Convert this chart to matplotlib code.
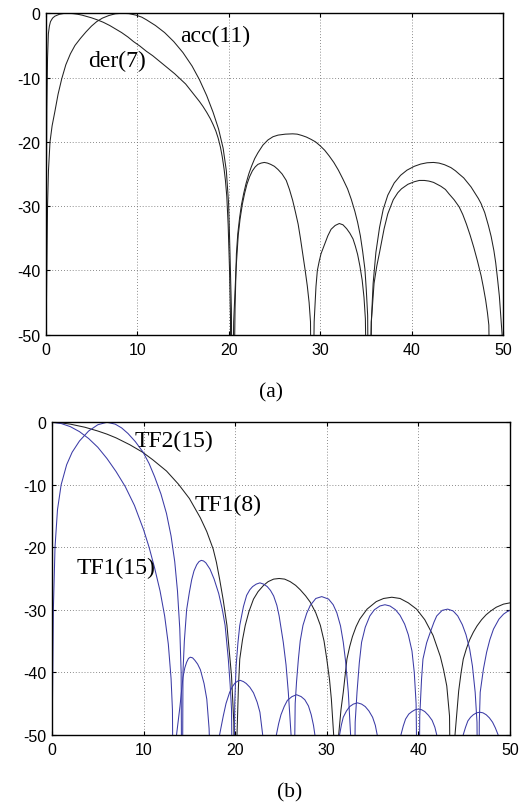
import numpy as np
import matplotlib
matplotlib.use('Agg')
import matplotlib.pyplot as plt
import matplotlib as mpl

mpl.rcParams['axes.unicode_minus'] = False
mpl.rcParams['font.family'] = 'Liberation Sans'
mpl.rcParams['xtick.labelsize'] = 11.5
mpl.rcParams['ytick.labelsize'] = 11.5

###########################################################
# data: (frequency, dB) pairs, values below -50 are off chart

# (a) der(7): main lobe + side lobes
der7 = [(0.0, -75), (0.04, -40), (0.08, -25), (0.12, -15), (0.2, -7), (0.29, -3.2),
        (0.4, -2.0), (0.52, -1.3), (0.75, -0.75), (1.0, -0.45), (1.5, -0.15), (2.0, -0.02),
        (2.5, 0), (3.0, -0.05), (3.5, -0.15), (4.0, -0.3), (4.5, -0.5), (5.0, -0.7),
        (5.6, -1.0), (6.3, -1.4), (7.0, -1.9), (7.6, -2.4), (8.3, -3.0), (9.0, -3.7),
        (9.6, -4.4), (10.3, -5.1), (11.0, -5.9), (11.7, -6.6), (12.3, -7.3), (13.0, -8.1),
        (13.5, -8.7), (14.1, -9.4), (14.7, -10.2), (15.3, -11.0), (15.8, -11.9),
        (16.3, -12.8), (16.8, -13.7), (17.2, -14.5), (17.6, -15.4), (18.0, -16.4),
        (18.3, -17.3), (18.6, -18.3), (18.85, -19.4), (19.1, -20.8), (19.3, -22.3),
        (19.5, -24.2), (19.65, -26.0), (19.8, -28.5), (19.95, -33), (20.1, -40),
        (20.2, -47), (20.3, -75),
        (20.55, -48), (20.8, -40), (21.05, -34.5), (21.25, -32), (21.5, -29.7),
        (21.75, -28.0), (22.0, -26.6), (22.3, -25.4), (22.6, -24.5), (22.9, -23.9),
        (23.2, -23.5), (23.55, -23.3), (23.9, -23.2), (24.25, -23.3), (24.6, -23.5),
        (25.0, -23.8), (25.4, -24.3), (25.85, -25.0), (26.3, -26.0), (26.65, -27.4),
        (27.0, -29.1), (27.3, -30.9), (27.6, -32.8), (27.85, -35), (28.1, -37.4),
        (28.35, -39.8), (28.6, -42.4), (28.8, -45), (28.95, -48), (29.1, -75),
        (29.35, -48), (29.55, -42.5), (29.7, -40), (29.9, -38.6), (30.1, -37.4),
        (30.5, -35.9), (30.85, -34.6), (31.2, -33.6), (31.65, -33.0), (32.1, -32.7),
        (32.5, -32.9), (32.9, -33.5), (33.25, -34.2), (33.6, -35.1), (33.85, -36.2),
        (34.1, -37.5), (34.35, -39.3), (34.6, -41.5), (34.8, -44.2), (34.95, -47.5),
        (35.25, -75),
        (35.6, -48), (35.9, -42), (36.2, -39.3), (36.5, -37.2), (37.0, -33.5),
        (37.4, -31.2), (38.0, -29.0), (38.5, -27.9), (38.9, -27.3), (39.6, -26.6),
        (40.3, -26.2), (40.85, -26.0), (41.4, -26.0), (41.9, -26.1), (42.4, -26.3),
        (43.2, -26.9), (43.7, -27.4), (44.1, -28.1), (44.65, -29.0), (45.2, -30.1),
        (45.6, -31.3), (46.0, -32.8), (46.4, -34.5), (46.8, -36.4), (47.2, -38.5),
        (47.6, -40.8), (47.85, -42.6), (48.1, -44.6), (48.3, -46.6), (48.45, -48.5),
        (48.7, -75)]

# (a) acc(11)
acc11 = [(0.0, -75), (0.08, -45), (0.2, -30), (0.3, -24.5), (0.47, -20), (0.7, -17.5),
         (1.0, -15.3), (1.35, -12.6), (1.75, -10.2), (2.2, -8.0), (2.7, -6.3), (3.2, -5.0),
         (3.8, -3.9), (4.4, -2.9), (5.0, -2.0), (5.57, -1.3), (6.2, -0.75), (6.9, -0.35),
         (7.6, -0.08), (8.3, 0), (9.1, -0.05), (9.9, -0.3), (10.5, -0.6), (11.0, -1.0),
         (12.0, -1.9), (13.0, -3.0), (14.0, -4.4), (15.0, -6.1), (16.0, -8.2),
         (16.8, -10.3), (17.6, -12.8), (18.3, -15.4), (18.9, -18.0), (19.4, -21),
         (19.75, -24.5), (20.0, -29.7), (20.15, -37.4), (20.3, -46), (20.45, -75),
         (20.7, -46), (20.85, -37.4), (21.0, -34.3), (21.2, -31.8), (21.4, -29.8),
         (21.65, -28.0), (21.9, -26.5), (22.2, -25.0), (22.5, -23.8), (22.85, -22.6),
         (23.2, -21.7), (23.75, -20.5), (24.3, -19.7), (24.85, -19.2), (25.4, -18.95),
         (26.2, -18.8), (27.0, -18.75), (27.5, -18.8), (28.0, -19.0), (28.5, -19.25),
         (29.0, -19.6), (29.5, -20.0), (30.0, -20.6), (30.5, -21.3), (31.0, -22.2),
         (31.5, -23.2), (32.0, -24.4), (32.5, -25.8), (33.0, -27.3), (33.4, -28.9),
         (33.8, -30.8), (34.1, -32.5), (34.4, -34.6), (34.65, -37.0), (34.9, -39.8),
         (35.05, -43), (35.2, -47), (35.35, -75),
         (35.6, -48), (35.8, -42), (36.1, -37.2), (36.5, -33.3), (36.9, -30.5),
         (37.4, -28.3), (38.1, -26.4), (38.8, -25.2), (39.5, -24.4), (40.3, -23.8),
         (41.0, -23.45), (41.7, -23.25), (42.4, -23.2), (43.0, -23.3), (43.6, -23.55),
         (44.3, -24.0), (44.8, -24.5), (45.2, -25.0), (45.7, -25.6), (46.1, -26.3),
         (46.5, -27.0), (46.9, -27.9), (47.3, -28.8), (47.6, -29.6), (48.0, -31.0),
         (48.4, -33.0), (48.7, -34.7), (49.0, -36.9), (49.2, -38.8), (49.4, -41.3),
         (49.6, -44), (49.75, -47), (49.9, -50), (50.0, -58)]

# (b) TF1(8), black
tf1_8 = [(0.0, 0), (1.0, -0.1), (2.0, -0.3), (3.6, -0.8), (5.0, -1.4), (6.0, -1.9),
         (7.0, -2.5), (8.5, -3.6), (9.9, -4.8), (11.0, -6.0), (12.5, -7.8), (13.8, -9.9),
         (15.0, -12.2), (16.2, -15.3), (16.9, -17.5), (17.6, -20.3), (17.95, -22.4),
         (18.3, -25.1), (18.7, -28.5), (19.1, -32.5), (19.6, -40.6), (19.85, -48),
         (20.05, -75),
         (20.2, -50), (20.35, -42.5), (20.5, -37.9), (20.8, -34.8), (21.1, -32.5),
         (21.5, -30.3), (22.0, -28.3), (22.5, -27.1), (23.1, -26.1), (23.6, -25.5),
         (24.2, -25.1), (24.8, -25.0), (25.4, -25.1), (26.0, -25.5), (26.6, -26.1),
         (27.1, -26.8), (27.7, -27.8), (28.2, -28.8), (28.8, -30.5), (29.3, -32.5),
         (29.7, -35.0), (30.0, -37.9), (30.3, -41.2), (30.5, -44.3), (30.75, -50),
         (30.95, -75),
         (31.3, -50), (31.55, -46), (31.8, -43.2), (32.2, -37.9), (32.5, -35.9),
         (32.8, -34.3), (33.2, -32.7), (33.6, -31.5), (34.4, -29.9), (35.4, -28.7),
         (36.2, -28.2), (37.1, -28.0), (38.0, -28.2), (38.9, -28.9), (39.8, -29.9),
         (40.7, -31.6), (41.6, -34.1), (42.4, -37.5), (42.75, -39.6), (43.1, -42.2),
         (43.4, -47), (43.6, -75),
         (44.0, -50), (44.4, -43), (44.65, -40.2), (44.9, -37.9), (45.25, -36.2),
         (45.6, -34.8), (46.0, -33.6), (46.4, -32.6), (46.9, -31.6), (47.4, -30.8),
         (47.9, -30.2), (48.5, -29.6), (49.3, -29.1), (50.0, -28.9)]

# (b) TF1(15), blue, low-pass shape
tf1_15 = [(0.0, 0), (1.0, -0.2), (2.0, -0.7), (3.0, -1.5), (4.0, -2.6), (5.0, -4.0),
          (6.0, -5.8), (7.0, -7.9), (8.0, -10.3), (9.0, -13.3), (10.0, -17.2),
          (10.6, -20.0), (11.2, -23.3), (11.8, -27.0), (12.3, -31.0), (12.7, -35.5),
          (13.0, -41), (13.15, -46), (13.3, -75),
          (13.6, -50), (13.97, -45.5), (14.3, -40.8), (14.5, -39.3), (14.7, -38.4),
          (14.9, -37.8), (15.1, -37.6), (15.35, -37.7), (15.6, -38.1), (15.9, -38.7),
          (16.2, -39.6), (16.6, -41.8), (16.9, -44.3), (17.15, -49), (17.75, -75),
          (18.3, -50), (18.7, -47), (19.0, -45.0), (19.4, -43.2), (19.7, -42.3),
          (20.0, -41.7), (20.3, -41.4), (20.55, -41.3), (20.9, -41.5), (21.2, -41.8),
          (21.6, -42.4), (22.0, -43.3), (22.4, -44.8), (22.7, -46.4), (23.0, -50),
          (23.7, -75),
          (24.5, -50), (24.75, -48.2), (25.0, -46.8), (25.35, -45.5), (25.7, -44.5),
          (26.2, -43.9), (26.7, -43.6), (27.2, -43.9), (27.6, -44.4), (28.0, -45.4),
          (28.3, -46.8), (28.55, -48.5), (28.7, -50), (29.9, -75),
          (31.4, -50), (31.6, -48.4), (31.8, -47.2), (32.15, -46.2), (32.5, -45.5),
          (32.9, -45.1), (33.35, -44.9), (33.8, -45.1), (34.2, -45.5), (34.6, -46.2),
          (35.0, -47.2), (35.3, -48.5), (35.5, -50), (36.7, -75),
          (38.1, -50), (38.35, -48.6), (38.6, -47.5), (38.95, -46.7), (39.3, -46.3),
          (39.65, -46.0), (40.0, -45.9), (40.35, -46.0), (40.7, -46.3), (41.1, -46.9),
          (41.5, -47.7), (41.8, -48.8), (42.0, -50), (43.4, -75),
          (44.9, -50), (45.15, -48.8), (45.4, -47.8), (45.7, -47.2), (46.0, -46.8),
          (46.35, -46.5), (46.7, -46.4), (47.05, -46.5), (47.4, -46.8), (47.75, -47.3),
          (48.1, -48.0), (48.4, -48.9), (48.7, -50), (50.0, -75)]

# (b) TF2(15), blue, peak near 6
tf2_15 = [(0.0, -75), (0.05, -45), (0.15, -30), (0.33, -20), (0.6, -14), (1.0, -10),
          (1.6, -6.8), (2.2, -4.8), (3.0, -3.0), (4.0, -1.4), (5.0, -0.4), (6.0, 0),
          (6.9, -0.3), (7.6, -0.9), (8.3, -1.8), (9.1, -3.1), (9.95, -4.8), (10.6, -6.6),
          (11.2, -8.7), (11.9, -11.5), (12.5, -14.6), (13.0, -18.2), (13.4, -22.3),
          (13.7, -27.0), (13.95, -33), (14.1, -40), (14.2, -75),
          (14.3, -40), (14.45, -35), (14.7, -30), (15.0, -27.2), (15.25, -25.2),
          (15.5, -23.8), (15.8, -22.8), (16.05, -22.3), (16.3, -22.1), (16.55, -22.2),
          (16.8, -22.5), (17.25, -23.5), (17.7, -25.1), (18.2, -27.4), (18.6, -30.0),
          (18.9, -32.5), (19.25, -37.9), (19.45, -42), (19.6, -45.9), (19.8, -75),
          (19.95, -45), (20.1, -39), (20.3, -35.3), (20.5, -32.5), (20.9, -29.5),
          (21.25, -27.7), (21.6, -26.8), (21.9, -26.3), (22.3, -25.9), (22.7, -25.7),
          (23.1, -25.9), (23.5, -26.3), (23.85, -26.9), (24.2, -27.8), (24.55, -29.3),
          (24.8, -31), (25.25, -35.2), (25.55, -38.8), (25.8, -43.2), (26.1, -50),
          (26.3, -75),
          (26.55, -45), (26.7, -41.5), (26.9, -37.9), (27.1, -35.0), (27.4, -32.5),
          (27.8, -30.6), (28.2, -29.3), (28.8, -28.2), (29.45, -27.9), (30.2, -28.3),
          (30.7, -29.2), (31.1, -30.5), (31.5, -32.6), (31.8, -35.2), (32.05, -38.2),
          (32.35, -43.2), (32.6, -50), (32.9, -75),
          (33.1, -48), (33.3, -43.2), (33.55, -38.5), (33.8, -35.2), (34.2, -32.8),
          (34.7, -31.0), (35.2, -30.0), (35.8, -29.4), (36.35, -29.2), (36.9, -29.4),
          (37.5, -30.0), (38.0, -30.9), (38.5, -32.3), (38.9, -34.0), (39.3, -36.6),
          (39.55, -40), (39.75, -45), (40.0, -75),
          (40.15, -47), (40.35, -41), (40.5, -37.9), (40.9, -35.3), (41.3, -33.6),
          (41.7, -32.0), (42.0, -31.0), (42.6, -30.1), (43.2, -29.9), (43.8, -30.2),
          (44.3, -31.0), (44.8, -32.4), (45.2, -34.0), (45.6, -36.3), (45.9, -39),
          (46.2, -43.2), (46.4, -48), (46.55, -75),
          (46.65, -48), (46.75, -43.2), (47.1, -39.5), (47.45, -36.8), (47.8, -34.8),
          (48.2, -33.1), (48.8, -31.5), (49.3, -30.7), (49.7, -30.3), (50.0, -30.1)]

x_ticks = [0, 10, 20, 30, 40, 50]
y_ticks = [0, -10, -20, -30, -40, -50]

blue = '#3b3ba6'
serif = 'Liberation Serif'

###########################################################

fig = plt.figure(figsize=(5.23, 8.03), dpi=100)
ax1 = fig.add_axes([0.0874, 0.5819, 0.8744, 0.4003])
ax2 = fig.add_axes([0.0994, 0.0838, 0.8757, 0.3891])


def setup(ax):
    ax.set_xlim(0, 50)
    ax.set_ylim(-50, 0)
    ax.set_xticks(x_ticks)
    ax.set_yticks(y_ticks)
    ax.set_axisbelow(True)
    ax.grid(True, linestyle=(0, (1, 2.5)), color='#666666', linewidth=0.6)
    ax.tick_params(direction='in', top=True, right=True, length=3, width=0.8, pad=4)
    ax.tick_params(axis='x', pad=5)
    for s in ax.spines.values():
        s.set_linewidth(1.0)


def draw(ax, pts, color):
    d = np.array(pts).T
    ax.plot(d[0], d[1], color=color, lw=0.75)


setup(ax1)
draw(ax1, der7, '#222222')
draw(ax1, acc11, '#222222')
ax1.text(4.65, -7.4, 'der(7)', family=serif, fontsize=17, ha='left', va='center')
ax1.text(14.66, -3.5, 'acc(11)', family=serif, fontsize=17, ha='left', va='center')

setup(ax2)
draw(ax2, tf1_8, '#222222')
draw(ax2, tf1_15, blue)
draw(ax2, tf2_15, blue)
ax2.text(9.06, -2.9, 'TF2(15)', family=serif, fontsize=17, ha='left', va='center')
ax2.text(15.6, -13.2, 'TF1(8)', family=serif, fontsize=17, ha='left', va='center')
ax2.text(2.7, -23.3, 'TF1(15)', family=serif, fontsize=17, ha='left', va='center')

fig.text(0.519, 0.511, '(a)', family=serif, fontsize=15.5, ha='center', va='center')
fig.text(0.553, 0.0125, '(b)', family=serif, fontsize=15.5, ha='center', va='center')

fig.savefig('out.png', dpi=100)
